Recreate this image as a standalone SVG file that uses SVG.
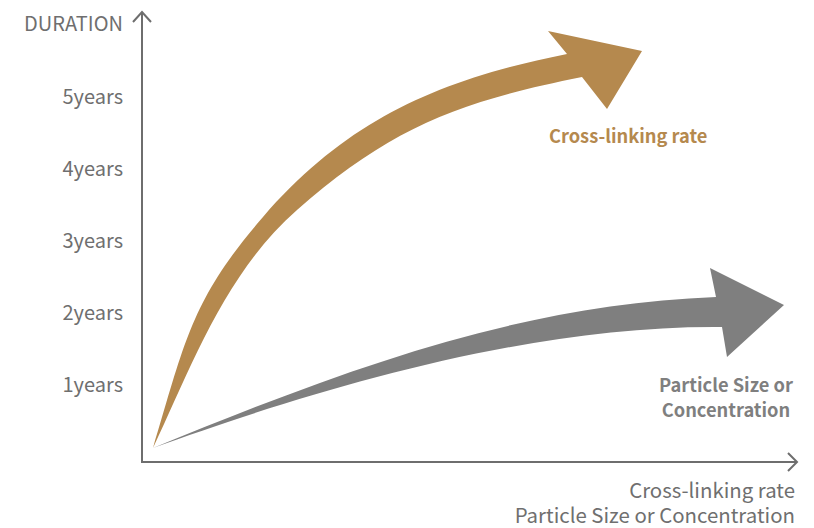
<svg xmlns="http://www.w3.org/2000/svg" width="814" height="528" viewBox="0 0 814 528">
  <style>
    .axis { fill: none; stroke: #6e6e6e; stroke-width: 2; }
    .tick { font-family: "Noto Sans CJK KR", "Noto Sans", sans-serif; font-size: 20px; fill: #6f6f6f; text-anchor: end; }
    .xlbl { font-size: 20.4px; }
    .lbl { font-family: "Noto Sans CJK KR", "Noto Sans", sans-serif; font-size: 18.3px; font-weight: bold; }
    .gold { fill: #b5894e; }
    .grey { fill: #7f7f7f; }
  </style>
  <rect width="814" height="528" fill="#ffffff"/>

  <!-- axes -->
  <g id="axes">
    <path class="axis" d="M142,13 V462 H796"/>
    <path class="axis" d="M133,22 L142,12 L151,22"/>
    <path class="axis" d="M788,453 L797,462 L788,471"/>
  </g>

  <!-- axis labels -->
  <g id="y-labels">
    <text class="tick" x="123" y="31">DURATION</text>
    <text class="tick" x="123" y="104">5years</text>
    <text class="tick" x="123" y="176">4years</text>
    <text class="tick" x="123" y="248">3years</text>
    <text class="tick" x="123" y="320">2years</text>
    <text class="tick" x="123" y="392">1years</text>
  </g>
  <g id="x-labels">
    <text class="tick xlbl" x="795" y="498">Cross-linking rate</text>
    <text class="tick xlbl" x="795" y="523">Particle Size or Concentration</text>
  </g>

  <!-- curved trend arrows -->
  <g id="connectors">
    <path id="crosslink-arrow" class="gold" d="M153,448 C184.9,342.7 190.8,300 263,217 C348.3,118.8 439.6,79.5 567,54 L548,31 L642,51 L607,109 L582,77 C459.5,101.5 390.75,127.5 297,210 C224,274 190,370 153,448 Z"/>
    <path id="particle-arrow" class="grey" d="M153,448 C353,366 520,305 716,297 L710,268 L784,305 L727,357 L722,327 C520,325 300,395 153,448 Z"/>
  </g>

  <g id="crosslink-label">
    <text class="lbl" x="549" y="143" fill="#b5894e">Cross-linking rate</text>
  </g>
  <g id="particle-label">
    <text class="lbl" x="726" y="392" fill="#7f7f7f" text-anchor="middle">Particle Size or</text>
    <text class="lbl" x="726" y="417" fill="#7f7f7f" text-anchor="middle">Concentration</text>
  </g>
</svg>
